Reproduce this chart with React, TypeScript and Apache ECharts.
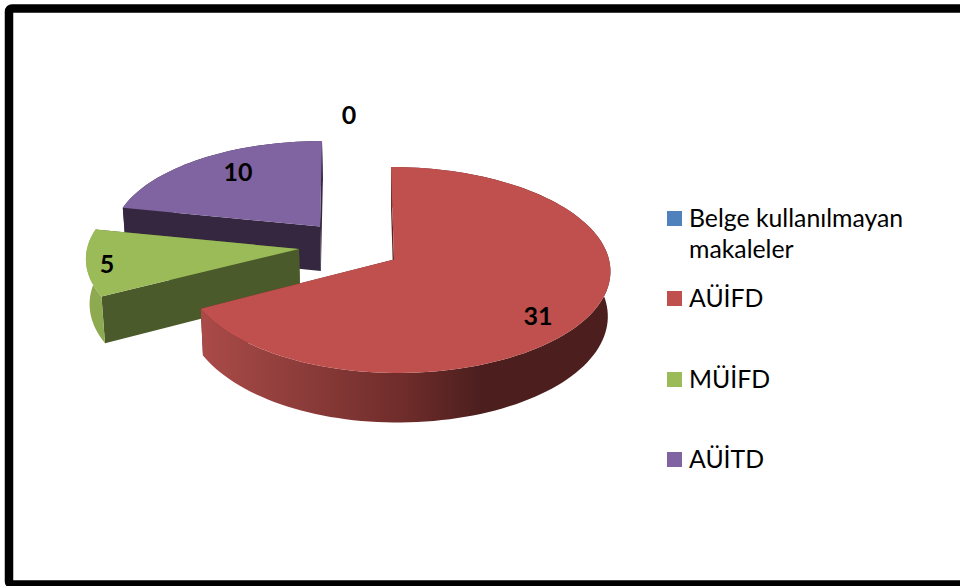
import React, { useEffect, useRef } from "react";
import * as echarts from "echarts";

const categories = ["Belge kullanılmayan makaleler", "AÜİFD", "MÜİFD", "AÜİTD"];
const values = [0, 31, 5, 10];
const colors = ["#4F81BD", "#C0504D", "#9BBB59", "#8064A2"];
const legendLines = [["Belge kullanılmayan", "makaleler"], ["AÜİFD"], ["MÜİFD"], ["AÜİTD"]];
const legendRows = [219, 299, 380, 460];

// Drawing set-up for each slice of the exploded 3D pie (no data in here).
const sliceLooks = [
  { ax: 349, ay: 115, rL: 100, rR: 100, b: 100, lean: 0, order: 0, face: "#4F81BD", wall: "#4F81BD", lx: 349, ly: 114 },
  { ax: 394, ay: 259.5, rL: 209, rR: 215, b: 101.9, lean: 3, order: 3, face: "#5B2523", wall: "gradient", lx: 538, ly: 315 },
  { ax: 299, ay: 249, rL: 212, rR: 212, b: 98.4, lean: 0, order: 2, face: "#4B5A2A", wall: "#8DAA51", lx: 107, ly: 263 },
  { ax: 320, ay: 226.5, rL: 206, rR: 206, b: 94.2, lean: -2, order: 1, face: "#35273F", wall: "#35273F", lx: 238, ly: 171 },
];
const PERSPECTIVE = 0.102;
const DEPTH = 44.5;
const VANISH_X = 392;
const SHRINK = 0.012;

const total = values.reduce((a, b) => a + b, 0);

function project(look: any, deg: number, radius: number, lower: boolean): number[] {
  const rad = (deg * Math.PI) / 180;
  const u = Math.sin(rad) * radius;
  const v = -Math.cos(rad) * radius;
  const w = 1 / (1 - PERSPECTIVE * v);
  let x = look.ax + (u < 0 ? look.rL : look.rR) * u * w + look.lean * v;
  let y = look.ay + look.b * v * w;
  if (lower) {
    x += (VANISH_X - x) * SHRINK;
    y += DEPTH * w;
  }
  return [x, y];
}

function arc(look: any, a0: number, a1: number, lower: boolean): number[][] {
  const n = Math.max(2, Math.ceil(Math.abs(a1 - a0) / 2));
  const pts: number[][] = [];
  for (let i = 0; i <= n; i++) pts.push(project(look, a0 + ((a1 - a0) * i) / n, 1, lower));
  return pts;
}

function renderSlice(params: any, api: any) {
  const i = params.dataIndex;
  const value = api.value(0);
  const look = sliceLooks[i];
  const before = values.slice(0, i).reduce((a, b) => a + b, 0);
  const start = (before / total) * 360;
  const end = ((before + value) / total) * 360;
  const children: any[] = [];
  const base = look.order * 10;
  if (value > 0) {
    const apexTop = project(look, 0, 0, false);
    const apexLow = project(look, 0, 0, true);
    const wallFill =
      look.wall === "gradient"
        ? new echarts.graphic.LinearGradient(0, 0, 1, 0, [
            { offset: 0, color: "#AA4B48" },
            { offset: 0.25, color: "#8C3C3A" },
            { offset: 0.5, color: "#6E2C2A" },
            { offset: 0.68, color: "#4C1F1E" },
            { offset: 1, color: "#4C1F1E" },
          ])
        : look.wall;
    const face = (deg: number, z: number) => ({
      type: "polygon",
      z2: base + z,
      shape: { points: [apexTop, project(look, deg, 1, false), project(look, deg, 1, true), apexLow] },
      style: { fill: look.face },
    });
    children.push(face(end, 1));
    children.push(face(start, 2));
    children.push({
      type: "polygon",
      z2: base + 3,
      shape: { points: [...arc(look, start, end, false), ...arc(look, end, start, true)] },
      style: { fill: wallFill },
    });
    children.push({
      type: "polygon",
      z2: base + 4,
      shape: { points: [apexTop, ...arc(look, start, end, false)] },
      style: { fill: colors[i] },
    });
  }
  children.push({
    type: "text",
    z2: 100,
    style: {
      text: String(value),
      x: look.lx,
      y: look.ly,
      align: "center",
      verticalAlign: "middle",
      fontFamily: "Lato",
      fontWeight: "bold",
      fontSize: 25,
      fill: "#000",
    },
  });
  return { type: "group", children };
}

export default function App() {
  const ref = useRef<HTMLDivElement>(null);
  useEffect(() => {
    const chart = echarts.init(ref.current!, null, { renderer: "svg" });
    const legendGraphics: any[] = [];
    categories.forEach((_, i) => {
      legendGraphics.push({
        type: "rect",
        shape: { x: 667, y: legendRows[i] - 8, width: 15, height: 15 },
        style: { fill: colors[i] },
      });
      legendLines[i].forEach((line, j) => {
        legendGraphics.push({
          type: "text",
          style: {
            text: line,
            x: 689,
            y: legendRows[i] + j * 31 - 2,
            align: "left",
            verticalAlign: "middle",
            fontFamily: "Lato",
            fontSize: 24.8,
            fill: "#000",
          },
        });
      });
    });
    chart.setOption({
      animation: false,
      backgroundColor: "#fff",
      graphic: [
        {
          type: "rect",
          shape: { x: 9, y: 8.5, width: 980, height: 576, r: 3 },
          style: { fill: "none", stroke: "#000", lineWidth: 8.5 },
        },
        ...legendGraphics,
      ],
      series: [
        {
          type: "custom",
          name: "Makaleler",
          coordinateSystem: "none",
          silent: true,
          data: values.map((v, i) => ({ name: categories[i], value: [v] })),
          renderItem: renderSlice,
        },
      ],
    });
    return () => chart.dispose();
  }, []);
  return <div ref={ref} style={{ position: "absolute", left: 0, top: 0, width: 960, height: 586 }} />;
}
